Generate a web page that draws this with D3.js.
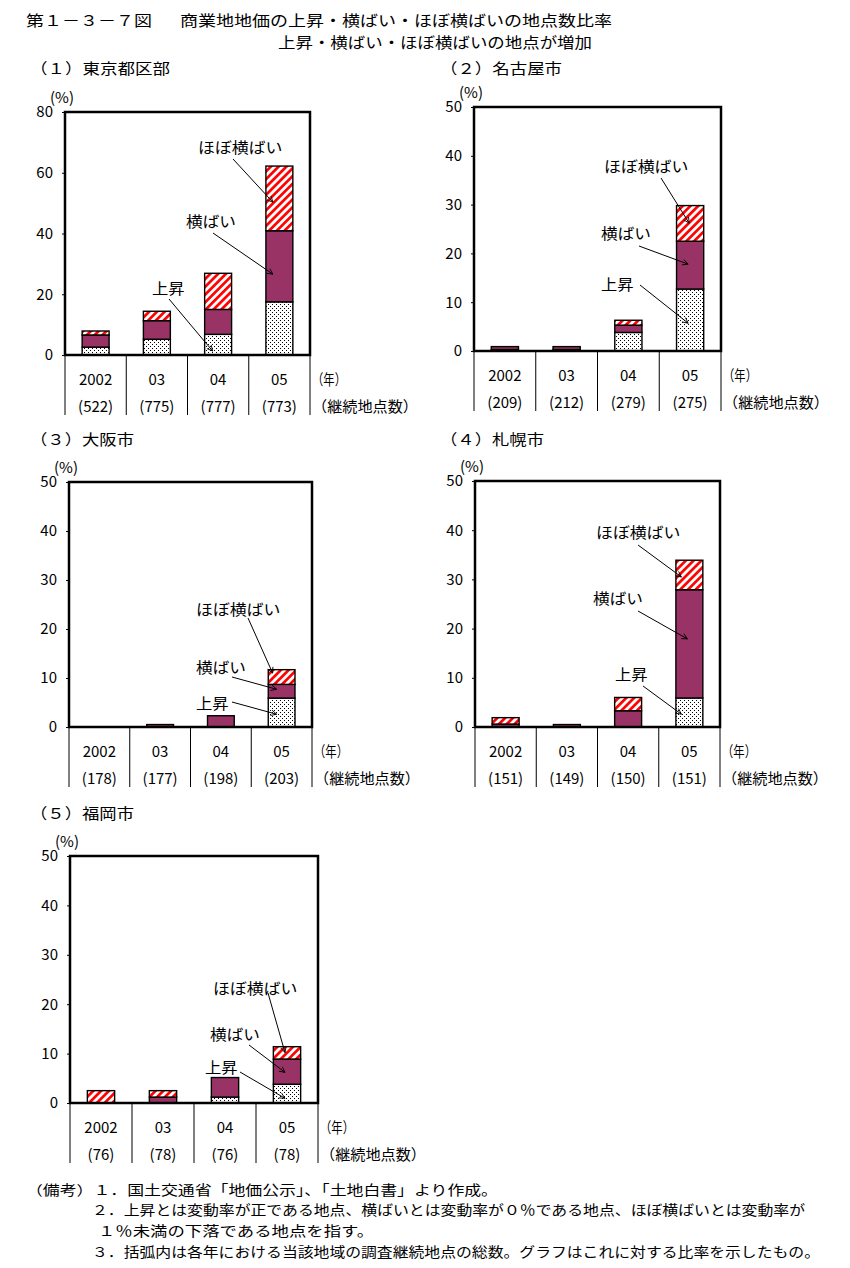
<!DOCTYPE html>
<html><head><meta charset="utf-8">
<script src="https://cdn.jsdelivr.net/npm/d3@7"></script>
<style>
body{margin:0;background:#fff;}
text{font-family:"Noto Sans CJK JP","Noto Sans",sans-serif;fill:#000;}
</style></head>
<body><svg id="chart" width="850" height="1268"></svg>
<script>
// ---- data ----
const categories = ["2002", "03", "04", "05"];
const seriesNames = ["上昇", "横ばい", "ほぼ横ばい"];
const yearUnit = "（年）";
const countUnit = "（継続地点数）";

const tokyoRise = [2.6, 5.2, 6.8, 17.5];
const tokyoFlat = [4.0, 6.1, 8.2, 23.4];
const tokyoNear = [1.3, 3.1, 11.9, 21.3];
const tokyoCounts = [522, 775, 777, 773];

const nagoyaRise = [0.3, 0.3, 3.8, 12.7];
const nagoyaFlat = [0.6, 0.6, 1.5, 9.8];
const nagoyaNear = [0, 0, 1.0, 7.3];
const nagoyaCounts = [209, 212, 279, 275];

const osakaRise = [0, 0, 0, 5.9];
const osakaFlat = [0, 0.5, 2.3, 2.8];
const osakaNear = [0, 0, 0, 3.0];
const osakaCounts = [178, 177, 198, 203];

const sapporoRise = [0, 0, 0, 5.9];
const sapporoFlat = [0.6, 0.5, 3.3, 22.0];
const sapporoNear = [1.3, 0, 2.7, 6.0];
const sapporoCounts = [151, 149, 150, 151];

const fukuokaRise = [0, 0, 1.2, 3.8];
const fukuokaFlat = [0, 1.2, 3.95, 5.1];
const fukuokaNear = [2.5, 1.3, 0, 2.5];
const fukuokaCounts = [76, 78, 76, 78];

const ticks80 = [0, 20, 40, 60, 80];
const ticks50 = [0, 10, 20, 30, 40, 50];

const titleNo = "第１－３－７図";
const titleMain = "商業地地価の上昇・横ばい・ほぼ横ばいの地点数比率";
const subtitle = "上昇・横ばい・ほぼ横ばいの地点が増加";
const notes = [
  "（備考）１．国土交通省「地価公示」、「土地白書」より作成。",
  "２．上昇とは変動率が正である地点、横ばいとは変動率が０％である地点、ほぼ横ばいとは変動率が",
  "１％未満の下落である地点を指す。",
  "３．括弧内は各年における当該地域の調査継続地点の総数。グラフはこれに対する比率を示したもの。"
];

// ---- layout ----
const panels = [
  {label:"（１）東京都区部", lx:30, ly:67, lw:140, left:65, right:310, top:112, bottom:355, ymax:80, ticks:ticks80,
   rise:tokyoRise, flat:tokyoFlat, near:tokyoNear, counts:tokyoCounts,
   ann:[{t:2, tx:133, ty:34, sx:168, sy:47, cat:"05", v:50.3, dx:-6.5},
        {t:1, tx:121, ty:108, sx:148, sy:121, cat:"05", v:26.6, dx:-6.5},
        {t:0, tx:87, ty:175, sx:104, sy:187, cat:"04", v:1.3, dx:-5.5}]},
  {label:"（２）名古屋市", lx:440, ly:67, lw:122, left:474, right:721, top:107, bottom:351, ymax:50, ticks:ticks50,
   rise:nagoyaRise, flat:nagoyaFlat, near:nagoyaNear, counts:nagoyaCounts,
   ann:[{t:2, tx:130, ty:58, sx:187, sy:71, cat:"05", v:26.2, dx:-1},
        {t:1, tx:127, ty:125, sx:165, sy:139, cat:"05", v:17.8, dx:-2},
        {t:0, tx:127, ty:176, sx:166, sy:178, cat:"05", v:5.7, dx:-2}]},
  {label:"（３）大阪市", lx:30, ly:438, lw:104, left:69, right:312, top:482, bottom:727, ymax:50, ticks:ticks50,
   rise:osakaRise, flat:osakaFlat, near:osakaNear, counts:osakaCounts,
   ann:[{t:2, tx:127, ty:126, sx:179, sy:136, cat:"05", v:11.0, dx:-9},
        {t:1, tx:127, ty:184, sx:163, sy:195, cat:"05", v:7.7, dx:-5},
        {t:0, tx:127, ty:220, sx:163, sy:220, cat:"05", v:2.6, dx:-5}]},
  {label:"（４）札幌市", lx:440, ly:438, lw:104, left:475, right:720, top:481, bottom:727, ymax:50, ticks:ticks50,
   rise:sapporoRise, flat:sapporoFlat, near:sapporoNear, counts:sapporoCounts,
   ann:[{t:2, tx:121, ty:50, sx:163, sy:64, cat:"05", v:30.5, dx:-8},
        {t:1, tx:118, ty:116, sx:163, sy:130, cat:"05", v:17.9, dx:-2},
        {t:0, tx:140, ty:192, sx:168, sy:205, cat:"05", v:2.6, dx:-8}]},
  {label:"（５）福岡市", lx:30, ly:812, lw:104, left:70, right:318, top:856, bottom:1103, ymax:50, ticks:ticks50,
   rise:fukuokaRise, flat:fukuokaFlat, near:fukuokaNear, counts:fukuokaCounts,
   ann:[{t:2, tx:143, ty:131, sx:198, sy:137, cat:"05", v:10.2, dx:-2},
        {t:1, tx:140, ty:177, sx:179, sy:189, cat:"05", v:6.2, dx:-2},
        {t:0, tx:135, ty:210, sx:170, sy:216, cat:"05", v:0.95, dx:-2}]}
];

const svg = d3.select("#chart");
const defs = svg.append("defs");

// dotted pattern
const dots = defs.append("pattern").attr("id","dots").attr("patternUnits","userSpaceOnUse")
  .attr("width",4).attr("height",4);
dots.append("rect").attr("width",4).attr("height",4).attr("fill","#fff");
dots.append("rect").attr("x",0).attr("y",0).attr("width",1).attr("height",1).attr("fill","#000");
dots.append("rect").attr("x",2).attr("y",2).attr("width",1).attr("height",1).attr("fill","#000");

// red diagonal stripes
const stripes = defs.append("pattern").attr("id","stripes").attr("patternUnits","userSpaceOnUse")
  .attr("width",5.5).attr("height",5.5).attr("patternTransform","rotate(45)");
stripes.append("rect").attr("width",5.5).attr("height",5.5).attr("fill","#fff");
stripes.append("rect").attr("x",0).attr("y",0).attr("width",2.7).attr("height",5.5).attr("fill","#ff0000");

// arrow marker
defs.append("marker").attr("id","arrow").attr("viewBox","0 0 10 10").attr("refX",9).attr("refY",5)
  .attr("markerWidth",7).attr("markerHeight",7).attr("orient","auto").attr("markerUnits","userSpaceOnUse")
  .append("path").attr("d","M1,1 L9,5 L1,9").attr("fill","none").attr("stroke","#000").attr("stroke-width",1.2);

const fills = ["url(#dots)", "#993366", "url(#stripes)"];

// titles
svg.append("text").attr("x",26).attr("y",19).attr("dominant-baseline","central").attr("font-size",15).attr("textLength",126).attr("lengthAdjust","spacingAndGlyphs").text(titleNo);
svg.append("text").attr("x",180).attr("y",19).attr("dominant-baseline","central").attr("font-size",15).attr("textLength",432).attr("lengthAdjust","spacingAndGlyphs").text(titleMain);
svg.append("text").attr("x",278).attr("y",41).attr("dominant-baseline","central").attr("font-size",15).attr("textLength",314).attr("lengthAdjust","spacingAndGlyphs").text(subtitle);

panels.forEach(p => {
  const g = svg.append("g");
  const x = d3.scaleBand().domain(categories).range([p.left, p.right]).padding(0);
  const y = d3.scaleLinear().domain([0, p.ymax]).range([p.bottom, p.top]);
  const bw = x.bandwidth() * 0.44;

  g.append("text").attr("x",p.lx).attr("y",p.ly).attr("dominant-baseline","central")
    .attr("font-size",15).attr("textLength",p.lw).attr("lengthAdjust","spacingAndGlyphs").text(p.label);
  g.append("text").attr("x",p.left-3).attr("y",p.top-16).attr("dominant-baseline","central")
    .attr("text-anchor","middle").attr("font-size",15).text("(%)");

  // stacked data
  const rows = categories.map((c,i) => ({cat:c, s0:p.rise[i], s1:p.flat[i], s2:p.near[i]}));
  const stack = d3.stack().keys(["s0","s1","s2"])(rows);
  stack.forEach((layer, li) => {
    g.selectAll(null).data(layer.filter(d => d[1] - d[0] > 0)).enter().append("rect")
      .attr("x", d => x(d.data.cat) + (x.bandwidth()-bw)/2)
      .attr("y", d => y(d[1]))
      .attr("width", bw)
      .attr("height", d => y(d[0]) - y(d[1]))
      .attr("fill", fills[li])
      .attr("stroke","#000").attr("stroke-width",1.4);
  });

  // y axis
  const yAxis = d3.axisLeft(y).tickValues(p.ticks).tickSize(3).tickPadding(9);
  const ya = g.append("g").attr("transform",`translate(${p.left},0)`).call(yAxis);
  ya.select(".domain").remove();
  ya.selectAll("line").attr("stroke","#000");
  ya.selectAll("text").attr("font-size",15).attr("font-family",'"Noto Sans CJK JP",sans-serif').attr("fill","#000");

  // plot frame
  g.append("rect").attr("x",p.left).attr("y",p.top).attr("width",p.right-p.left).attr("height",p.bottom-p.top)
    .attr("fill","none").attr("stroke","#000").attr("stroke-width",2.5);

  // category dividers below
  const edges = categories.map(c => x(c)).concat([p.right]);
  g.selectAll(null).data(edges).enter().append("line")
    .attr("x1",d=>d).attr("x2",d=>d).attr("y1",p.bottom).attr("y2",p.bottom+60)
    .attr("stroke","#000").attr("stroke-width",1);

  g.selectAll(null).data(categories).enter().append("text")
    .attr("x", c => x(c) + x.bandwidth()/2).attr("y", p.bottom+23).attr("dominant-baseline","central")
    .attr("text-anchor","middle").attr("font-size",15).text(c => c);
  g.selectAll(null).data(p.counts).enter().append("text")
    .attr("x", (c,i) => x(categories[i]) + x.bandwidth()/2).attr("y", p.bottom+50).attr("dominant-baseline","central")
    .attr("text-anchor","middle").attr("font-size",15).text(c => `(${c})`);
  g.append("text").attr("x",p.right+2).attr("y",p.bottom+23).attr("dominant-baseline","central")
    .attr("font-size",15).attr("textLength",34).attr("lengthAdjust","spacingAndGlyphs").text(yearUnit);
  g.append("text").attr("x",p.right+2).attr("y",p.bottom+50).attr("dominant-baseline","central")
    .attr("font-size",15).attr("textLength",106).attr("lengthAdjust","spacingAndGlyphs").text(countUnit);

  // annotations
  p.ann.forEach(a => {
    const name = seriesNames[a.t];
    g.append("text").attr("x",p.left+a.tx).attr("y",p.top+a.ty).attr("dominant-baseline","central")
      .attr("font-size",15).attr("textLength", name.length*17.3 - 2).attr("lengthAdjust","spacingAndGlyphs").text(name);
    g.append("line").attr("x1",p.left+a.sx).attr("y1",p.top+a.sy)
      .attr("x2", x(a.cat) + x.bandwidth()/2 + a.dx).attr("y2", y(a.v))
      .attr("stroke","#000").attr("stroke-width",1).attr("marker-end","url(#arrow)");
  });
});

// notes
const noteLayout = [{x:26,y:1189,w:472},{x:92,y:1209,w:713},{x:98,y:1230,w:276},{x:92,y:1251,w:728}];
notes.forEach((t,i) => {
  svg.append("text").attr("x",noteLayout[i].x).attr("y",noteLayout[i].y).attr("dominant-baseline","central")
    .attr("font-size",13.5).attr("textLength",noteLayout[i].w).attr("lengthAdjust","spacingAndGlyphs").text(t);
});
</script></body></html>
